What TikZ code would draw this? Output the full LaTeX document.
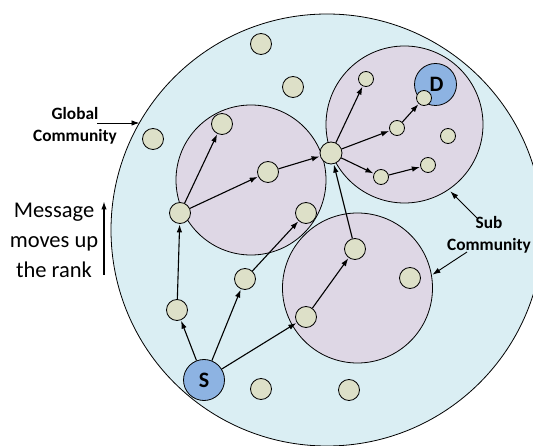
\documentclass[tikz,border=0pt]{standalone}
\usepackage{fontspec}
\setmainfont{Carlito}
\usetikzlibrary{arrows.meta}
\definecolor{globalfill}{HTML}{DAEEF3}
\definecolor{subfill}{HTML}{DED7E5}
\definecolor{nodefill}{HTML}{DDE0C8}
\definecolor{endfill}{HTML}{8DB3E2}
\tikzset{
  x=1pt, y=-1pt,
  nd/.style={circle, draw=black, line width=0.8pt, fill=nodefill, inner sep=0pt, minimum size=21pt},
  ndsmall/.style={nd, minimum size=15pt},
  endpt/.style={circle, draw=black, line width=0.8pt, fill=endfill, inner sep=0pt, font=\bfseries\fontsize{22}{24}\selectfont},
  comm/.style={circle, draw=black, line width=0.8pt, fill=subfill, inner sep=0pt},
  arr/.style={-{Latex[length=8pt,width=5.5pt]}, line width=1.1pt, shorten >=0.5pt},
  lbl/.style={font=\bfseries\fontsize{17.3}{22.5}\selectfont, align=center, inner sep=0pt},
}
\begin{document}
\begin{tikzpicture}
\useasboundingbox (0,0) rectangle (533,446);
\clip (0,0) rectangle (533,446);
\fill[white] (0,0) rectangle (533,446);
% global community
\node[circle, draw=black, line width=0.8pt, fill=globalfill, minimum size=432pt, inner sep=0pt] (glob) at (327,230) {};
% sub communities
\node[comm, minimum size=150pt] (c1) at (251,180) {};
\node[comm, minimum size=157pt] (c2) at (404.5,124.5) {};
\node[comm, minimum size=150pt] (c3) at (357.5,288) {};
% destination and source
\node[endpt, minimum size=42pt] (D) at (435.5,84.5) {\hspace*{2pt}D};
\node[endpt, minimum size=41pt] (S) at (204,380) {S};
% nodes
\node[nd] (a1) at (261,44) {};
\node[nd] (a2) at (293,87) {};
\node[nd] (a3) at (153,139) {};
\node[nd] (b1) at (222,124) {};
\node[nd] (b2) at (268,172) {};
\node[nd, minimum size=22pt] (hub) at (331,153) {};
\node[ndsmall] (d1) at (366,79) {};
\node[ndsmall] (d2) at (424,98) {};
\node[ndsmall] (d3) at (397,128) {};
\node[ndsmall] (d4) at (448,136) {};
\node[ndsmall] (d5) at (381,177) {};
\node[ndsmall] (d6) at (428,165) {};
\node[nd] (e1) at (306,213) {};
\node[nd] (f1) at (180,213) {};
\node[nd] (g1) at (355,249) {};
\node[nd] (g2) at (410,278) {};
\node[nd] (g3) at (306,317) {};
\node[nd] (h1) at (245,279) {};
\node[nd] (h2) at (177,310) {};
\node[nd] (k1) at (261,389) {};
\node[nd] (k2) at (349,390) {};
% arrows
\draw[arr] (S) -- (h2);
\draw[arr] (S) -- (h1);
\draw[arr] (S) -- (g3);
\draw[arr] (h2) -- (f1);
\draw[arr] (f1) -- (b1);
\draw[arr] (f1) -- (b2);
\draw[arr] (b2) -- (hub);
\draw[arr] (h1) -- (e1);
\draw[arr] (g3) -- (g1);
\draw[arr] (g1) -- (hub);
\draw[arr] (hub) -- (d1);
\draw[arr] (hub) -- (d3);
\draw[arr] (d3) -- (d2);
\draw[arr] (hub) -- (d5);
\draw[arr] (d5) -- (d6);
% labels
\node[lbl] (glab) at (75,126) {Global\\Community};
\coordinate (gstart) at (97,123);
\coordinate (gtip) at (140,123);
\draw[arr, line width=0.9pt] (gstart) -- (gtip);
\node[lbl] (slab) at (489,235) {Sub\\Community};
\coordinate (sstart1) at (477,218);
\coordinate (stip1) at (450,191);
\coordinate (sstart2) at (467,252);
\coordinate (stip2) at (432,275);
\draw[arr, line width=0.9pt] (sstart1) -- (stip1);
\draw[arr, line width=0.9pt] (sstart2) -- (stip2);
\node[font=\fontsize{22.5}{30}\selectfont, align=center, inner sep=0pt] (msg) at (54,240) {Message\\moves up\\the rank};
\coordinate (mtop) at (104,201);
\coordinate (mbot) at (104,275);
\draw[arr, line width=1.2pt] (mbot) -- (mtop);
\end{tikzpicture}
\end{document}
